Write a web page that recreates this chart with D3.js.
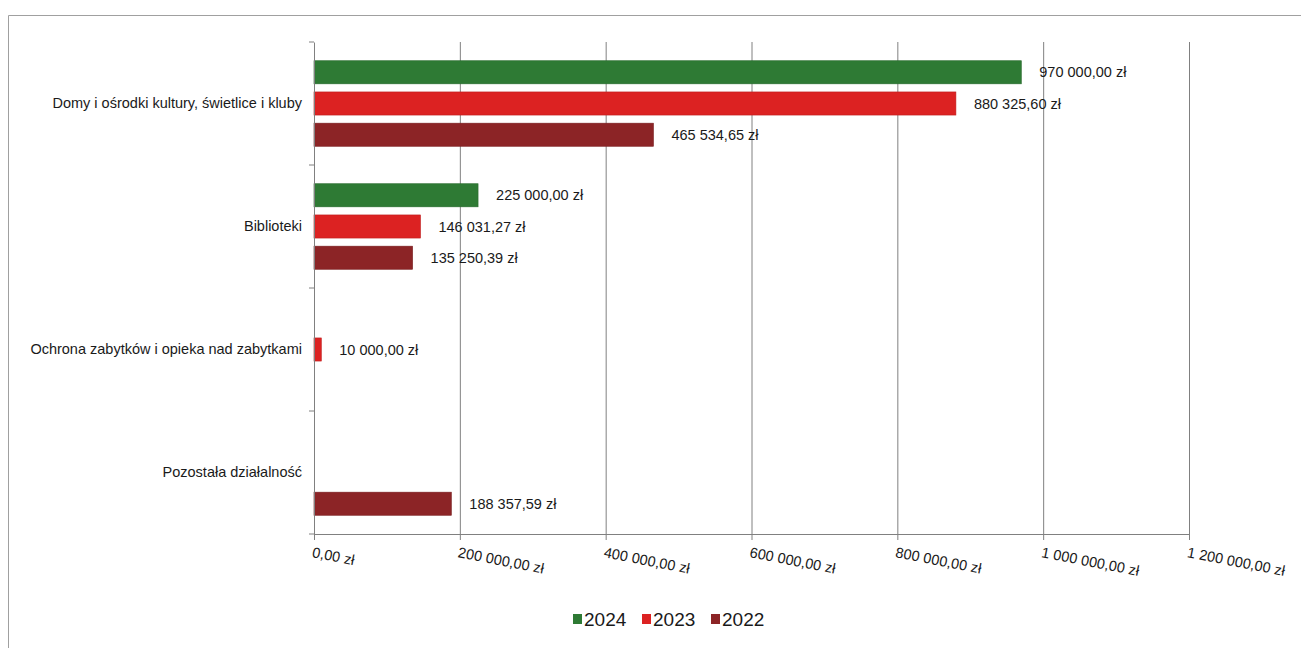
<!DOCTYPE html>
<html>
<head>
<meta charset="utf-8">
<script src="https://cdn.jsdelivr.net/npm/d3@7"></script>
<style>
  body { margin: 0; background: #fff; }
  svg { display: block; font-family: "Liberation Sans", Arial, sans-serif; }
</style>
</head>
<body>
<svg id="chart" width="1301" height="648"></svg>
<script>
// data
const categories = [
  'Domy i ośrodki kultury, świetlice i kluby',
  'Biblioteki',
  'Ochrona zabytków i opieka nad zabytkami',
  'Pozostała działalność'
];
const years = ['2024', '2023', '2022'];
const values2024 = [970000.00, 225000.00, null, null];
const values2023 = [880325.60, 146031.27, 10000.00, null];
const values2022 = [465534.65, 135250.39, null, 188357.59];
const xTicks = [0, 200000, 400000, 600000, 800000, 1000000, 1200000];

const colors = { '2024': '#2e7a34', '2023': '#dc2222', '2022': '#8c2426' };
const seriesByYear = { '2024': values2024, '2023': values2023, '2022': values2022 };

const locale = d3.formatLocale({ decimal: ',', thousands: '\u00a0', grouping: [3], currency: ['', ' zł'] });
const fmt = (v) => locale.format(',.2f')(v).replace(/\u00a0/g, ' ') + ' zł';

const margin = { top: 42, left: 314, right: 112, bottom: 114 };
const width = 1301, height = 648;
const fontSize = 14.5;

const svg = d3.select('#chart');

// frame of the scanned page
svg.append('path')
  .attr('d', `M8.5,${height} V15.5 H${width}`)
  .attr('fill', 'none')
  .attr('stroke', '#a0a0a0')
  .attr('stroke-width', 1);

const x = d3.scaleLinear().domain([0, 1200000]).range([margin.left, width - margin.right]);
const y = d3.scaleBand().domain(categories).range([margin.top, height - margin.bottom]);
const yInner = d3.scaleBand().domain(years).range([0, y.bandwidth()]).paddingInner(0.26).paddingOuter(0.6);

// vertical gridlines
svg.append('g')
  .selectAll('line')
  .data(xTicks.slice(1))
  .join('line')
  .attr('x1', (d) => x(d) + 0.5)
  .attr('x2', (d) => x(d) + 0.5)
  .attr('y1', margin.top)
  .attr('y2', height - margin.bottom)
  .attr('stroke', '#808080')
  .attr('stroke-width', 1);

// bars
const rows = [];
categories.forEach((c, i) => {
  years.forEach((yr) => {
    const v = seriesByYear[yr][i];
    if (v != null) rows.push({ category: c, year: yr, value: v });
  });
});

const bars = svg.append('g');
bars.selectAll('rect')
  .data(rows)
  .join('rect')
  .attr('x', x(0))
  .attr('y', (d) => y(d.category) + yInner(d.year))
  .attr('width', (d) => x(d.value) - x(0))
  .attr('height', yInner.bandwidth())
  .attr('fill', (d) => colors[d.year])
  .attr('stroke', (d) => d3.color(colors[d.year]).darker(0.4))
  .attr('stroke-width', 0.6);

bars.selectAll('text')
  .data(rows)
  .join('text')
  .attr('x', (d) => x(d.value) + 18)
  .attr('y', (d) => y(d.category) + yInner(d.year) + yInner.bandwidth() / 2)
  .attr('dy', '0.35em')
  .attr('font-size', fontSize)
  .attr('fill', '#1a1a1a')
  .text((d) => fmt(d.value));

// x axis
const xAxis = svg.append('g')
  .attr('transform', `translate(0,${height - margin.bottom})`)
  .call(d3.axisBottom(x).tickValues(xTicks).tickFormat(fmt).tickSize(6).tickSizeOuter(0));
xAxis.select('.domain').attr('stroke', '#808080');
xAxis.selectAll('.tick line').attr('stroke', '#808080');
xAxis.selectAll('.tick text')
  .attr('font-size', fontSize)
  .attr('fill', '#1a1a1a')
  .attr('text-anchor', 'start')
  .attr('transform', 'translate(-2,18) rotate(11)')
  .attr('y', 0)
  .attr('dy', '0.35em');

// y axis
const yAxis = svg.append('g')
  .attr('transform', `translate(${margin.left},0)`)
  .call(d3.axisLeft(y).tickSize(0).tickPadding(12));
yAxis.select('.domain').attr('stroke', '#808080');
yAxis.selectAll('.tick text').attr('font-size', fontSize).attr('fill', '#1a1a1a');
// category separators on the y axis
svg.append('g')
  .selectAll('line')
  .data(d3.range(categories.length + 1))
  .join('line')
  .attr('x1', margin.left - 5)
  .attr('x2', margin.left)
  .attr('y1', (i) => margin.top + i * y.step())
  .attr('y2', (i) => margin.top + i * y.step())
  .attr('stroke', '#808080');

// legend
const legend = svg.append('g').attr('transform', 'translate(573,619)');
const legendX = d3.scalePoint().domain(years).range([0, 138]);
const item = legend.selectAll('g')
  .data(years)
  .join('g')
  .attr('transform', (d) => `translate(${legendX(d)},0)`);
item.append('rect')
  .attr('x', 0)
  .attr('y', -5)
  .attr('width', 9)
  .attr('height', 10)
  .attr('fill', (d) => colors[d]);
item.append('text')
  .attr('x', 11)
  .attr('dy', '0.35em')
  .attr('font-size', 19)
  .attr('fill', '#1a1a1a')
  .text((d) => d);
</script>
</body>
</html>
